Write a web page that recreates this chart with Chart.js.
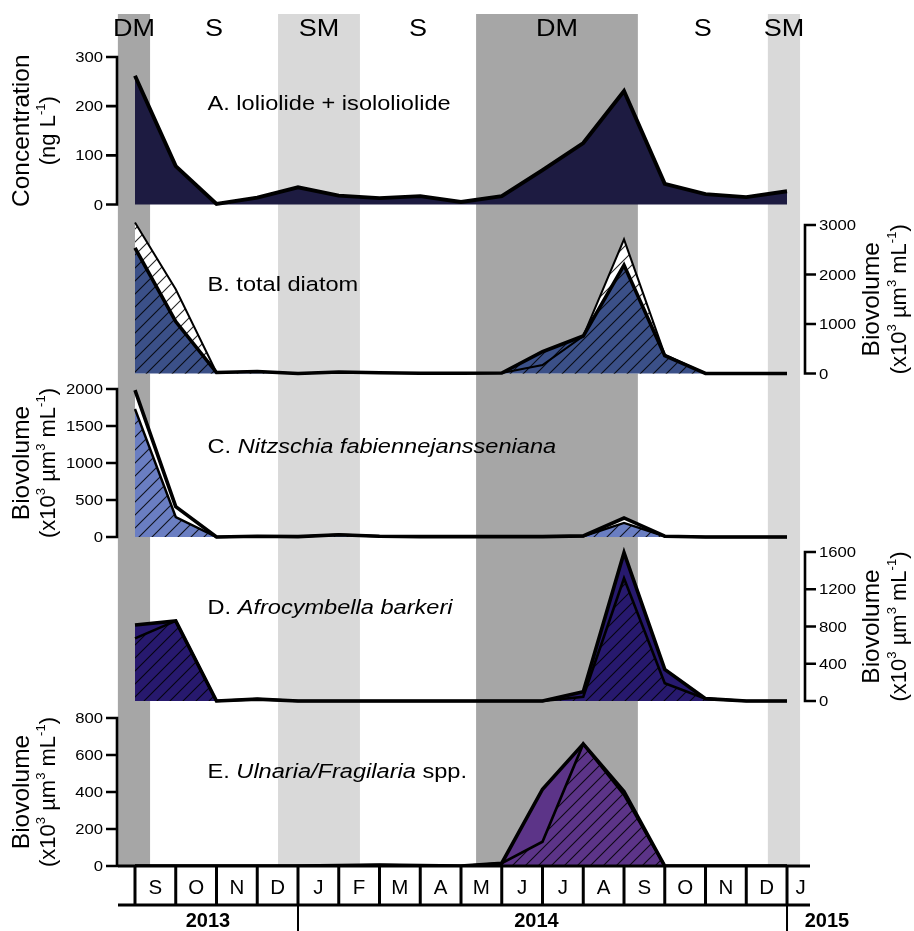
<!DOCTYPE html>
<html>
<head>
<meta charset="utf-8">
<script src="https://cdn.jsdelivr.net/npm/chart.js@4.4.1/dist/chart.umd.min.js"></script>
<style>
  html, body { margin: 0; padding: 0; background: #fff; }
  canvas { display: block; }
</style>
</head>
<body>
<canvas id="c" width="914" height="931"></canvas>
<script>
// sampling points: month index, 0 = start of Sep 2013
const sampleIdx = [0, 1, 2, 3, 4, 5, 6, 7, 8, 9, 10, 11, 12, 13, 14, 15, 16];
const monthLabels = ['S', 'O', 'N', 'D', 'J', 'F', 'M', 'A', 'M', 'J', 'J', 'A', 'S', 'O', 'N', 'D', 'J'];
const yearLabels = ['2013', '2014', '2015'];
const yearStart = [-0.42, 4, 16];

// seasons, in month index units
const seasonLabels = ['DM', 'S', 'SM', 'S', 'DM', 'S', 'SM'];
const seasonFrom = [-0.42, 0.37, 3.51, 5.52, 8.37, 12.34, 15.53];
const seasonTo   = [0.37, 3.51, 5.52, 8.37, 12.34, 15.53, 16.32];

// A. loliolide + isololiolide (ng/L)
const loliolide = [262, 78, 1, 14, 35, 18, 13, 17, 5, 17, 70, 125, 231, 42, 21, 15, 27];
// B. total diatom
const diatom1 = [2540, 1050, 20, 40, 0, 30, 15, 5, 5, 10, 440, 757, 2190, 360, 0, 0, 0];
const diatom2 = [3050, 1700, 20, 40, 0, 30, 15, 5, 5, 10, 170, 757, 2710, 380, 0, 0, 0];
// C. Nitzschia fabiennejansseniana
const nitzschia1 = [1985, 410, 0, 10, 5, 30, 10, 5, 5, 5, 5, 15, 257, 10, 0, 0, 0];
const nitzschia2 = [1730, 270, 0, 10, 5, 30, 10, 5, 5, 5, 5, 10, 190, 10, 0, 0, 0];
// D. Afrocymbella barkeri
const afrocymbella1 = [816, 860, 0, 20, 0, 0, 0, 0, 0, 0, 0, 100, 1593, 340, 25, 0, 0];
const afrocymbella2 = [673, 860, 0, 20, 0, 0, 0, 0, 0, 0, 0, 46, 1318, 190, 25, 0, 0];
// E. Ulnaria/Fragilaria spp.
const ulnaria1 = [0, 0, 0, 0, 0, 3, 5, 3, 0, 15, 415, 660, 402, 0, 0, 0, 0];
const ulnaria2 = [0, 0, 0, 0, 0, 3, 5, 3, 0, 15, 131, 660, 384, 0, 0, 0, 0];

const ticksA = [0, 100, 200, 300];
const ticksB = [0, 1000, 2000, 3000];
const ticksC = [0, 500, 1000, 1500, 2000];
const ticksD = [0, 400, 800, 1200, 1600];
const ticksE = [0, 200, 400, 600, 800];

const FONT = 'Arial, "Liberation Sans", Helvetica, sans-serif';
const TOP = 14, BOTTOM = 866;
const SX = 1.15; // text in the figure is a bit wide
const canvas = document.getElementById('c');
const ctx0 = canvas.getContext('2d');

function hatch(color, lines) {
  const s = 13;
  const t = document.createElement('canvas');
  t.width = t.height = s;
  const g = t.getContext('2d');
  g.fillStyle = color; g.fillRect(0, 0, s, s);
  if (lines !== false) {
    g.strokeStyle = 'rgba(0,0,0,0.85)';
    g.lineWidth = 1.1;
    g.beginPath();
    g.moveTo(0, s); g.lineTo(s, 0);
    g.moveTo(-2, 2); g.lineTo(2, -2);
    g.moveTo(s - 2, s + 2); g.lineTo(s + 2, s - 2);
    g.stroke();
  }
  return ctx0.createPattern(t, 'repeat');
}

// value range for each panel so that 0 and top tick land on given pixel rows
function yRange(p0, p1, v) {
  const k = v / (p0 - p1);
  return { min: -(BOTTOM - p0) * k, max: v + (p1 - TOP) * k, display: false };
}

const pts = vals => sampleIdx.map((x, i) => ({ x: x, y: vals[i] }));
function ds(vals, axis, bg, w) {
  return { data: pts(vals), yAxisID: axis, fill: 'origin', backgroundColor: bg,
           borderColor: '#000', borderWidth: w, pointRadius: 0, tension: 0 };
}

const UNIT_BIO = [['(x10'], ['3', 1], [' µm'], ['3', 1], [' mL'], ['-1', 1], [')']];
const panels = [
  { id: 'yA', ticks: ticksA, side: 'left', title: 'Concentration', unit: [['(ng L'], ['-1', 1], [')']],
    label: [['A. loliolide + isololiolide', 0]], ly: 47 },
  { id: 'yB', ticks: ticksB, side: 'right', title: 'Biovolume', unit: UNIT_BIO,
    label: [['B. total diatom', 0]], ly: 60 },
  { id: 'yC', ticks: ticksC, side: 'left', title: 'Biovolume', unit: UNIT_BIO,
    label: [['C. ', 0], ['Nitzschia fabiennejansseniana', 1]], ly: 58 },
  { id: 'yD', ticks: ticksD, side: 'right', title: 'Biovolume', unit: UNIT_BIO,
    label: [['D. ', 0], ['Afrocymbella barkeri', 1]], ly: 56 },
  { id: 'yE', ticks: ticksE, side: 'left', title: 'Biovolume', unit: UNIT_BIO,
    label: [['E. ', 0], ['Ulnaria/Fragilaria', 1], [' spp.', 0]], ly: 54 }
];

const colA = '#1d1b41', colB = '#3b5088', colC = '#6a7ec2', colD = '#27196e', colE = '#5c3488';

const bgPlugin = {
  id: 'bands',
  beforeDraw(chart) {
    const c = chart.ctx, xs = chart.scales.x;
    c.save();
    seasonLabels.forEach((s, i) => {
      if (s === 'S') return;
      const x0 = xs.getPixelForValue(seasonFrom[i]), x1 = xs.getPixelForValue(seasonTo[i]);
      c.fillStyle = s === 'DM' ? '#a6a6a6' : '#d9d9d9';
      c.fillRect(x0, TOP, x1 - x0, BOTTOM - TOP);
    });
    c.restore();
  }
};

// text stretched horizontally around its anchor
function wideText(c, txt, x, y, align) {
  c.save();
  c.translate(x, y);
  c.scale(SX, 1);
  c.textAlign = align;
  c.fillText(txt, 0, 0);
  c.restore();
}

function drawSupText(c, parts, size, cx, cy) {
  const sm = Math.round(size * 0.6);
  let w = 0;
  parts.forEach(p => { c.font = (p[1] ? sm : size) + 'px ' + FONT; w += c.measureText(p[0]).width; });
  let x = cx - w / 2;
  c.textBaseline = 'middle';
  c.textAlign = 'left';
  parts.forEach(p => {
    c.font = (p[1] ? sm : size) + 'px ' + FONT;
    c.fillText(p[0], x, p[1] ? cy - size * 0.36 : cy);
    x += c.measureText(p[0]).width;
  });
}

const axisPlugin = {
  id: 'axes',
  afterDraw(chart) {
    const c = chart.ctx, xs = chart.scales.x, area = chart.chartArea;
    c.save();
    c.fillStyle = '#000';
    c.strokeStyle = '#000';

    panels.forEach(p => {
      const sc = chart.scales[p.id];
      const yb = sc.getPixelForValue(0), yt = sc.getPixelForValue(p.ticks[p.ticks.length - 1]);
      const left = p.side === 'left';
      const ax = left ? area.left - 1 : area.right - 5;
      const d = left ? -1 : 1;
      c.lineWidth = 2.6;
      c.lineCap = 'butt';
      c.beginPath();
      c.moveTo(ax, yb + 1.3); c.lineTo(ax, yt - 1.3);
      p.ticks.forEach(t => {
        const y = sc.getPixelForValue(t);
        c.moveTo(ax, y); c.lineTo(ax + d * 11, y);
      });
      c.stroke();
      c.font = '14.5px ' + FONT;
      c.textBaseline = 'middle';
      p.ticks.forEach(t => {
        wideText(c, String(t), ax + d * 14, sc.getPixelForValue(t) + 1, left ? 'right' : 'left');
      });

      // axis title, rotated
      const cy = (yb + yt) / 2;
      const x1 = left ? 22 : 872, x2 = left ? 49 : 900;
      c.save();
      c.translate(x1, cy); c.rotate(-Math.PI / 2);
      c.font = '24.5px ' + FONT; c.textAlign = 'center'; c.textBaseline = 'middle';
      c.fillText(p.title, 0, 0);
      c.restore();
      c.save();
      c.translate(x2, cy); c.rotate(-Math.PI / 2);
      drawSupText(c, p.unit, 22, 0, 0);
      c.restore();

      // panel label
      let x = xs.getPixelForValue(1.78);
      const ly = yt + p.ly;
      c.textBaseline = 'middle';
      p.label.forEach(s => {
        c.font = (s[1] ? 'italic ' : '') + '20.5px ' + FONT;
        wideText(c, s[0], x, ly, 'left');
        x += c.measureText(s[0]).width * SX;
      });
    });

    // season labels
    c.font = '23.5px ' + FONT; c.textBaseline = 'middle';
    seasonLabels.forEach((s, i) => {
      wideText(c, s, xs.getPixelForValue((seasonFrom[i] + seasonTo[i]) / 2), 30, 'center');
    });

    // bottom axis with month boxes
    const yb = area.bottom, boxB = yb + 39;
    c.lineWidth = 3;
    c.beginPath();
    c.moveTo(area.left, yb); c.lineTo(area.right, yb);
    c.moveTo(area.left, boxB); c.lineTo(area.right, boxB);
    sampleIdx.forEach(i => {
      const x = xs.getPixelForValue(i);
      c.moveTo(x, yb); c.lineTo(x, boxB);
    });
    c.stroke();
    c.lineWidth = 2;
    c.beginPath();
    yearStart.slice(1).forEach(v => {
      const x = xs.getPixelForValue(v);
      c.moveTo(x, boxB); c.lineTo(x, 931);
    });
    c.stroke();

    c.font = '20.5px ' + FONT; c.textAlign = 'center'; c.textBaseline = 'middle';
    monthLabels.forEach((m, i) => {
      const v = i < monthLabels.length - 1 ? i + 0.5 : (i + xs.max) / 2 + 0.05;
      c.fillText(m, xs.getPixelForValue(v), yb + 22);
    });
    c.font = 'bold 20px ' + FONT;
    const yearMid = [(yearStart[0] + yearStart[1]) / 2, 9.85, 16.98];
    yearLabels.forEach((yl, i) => {
      c.fillText(yl, xs.getPixelForValue(yearMid[i]), 921);
    });
    c.restore();
  }
};

// earlier datasets are painted on top
new Chart(canvas, {
  type: 'line',
  data: {
    datasets: [
      ds(loliolide, 'yA', colA, 3.9),
      ds(diatom1, 'yB', hatch(colB), 3.6),
      ds(diatom2, 'yB', hatch('#ffffff'), 2),
      ds(nitzschia2, 'yC', hatch(colC), 2.4),
      ds(nitzschia1, 'yC', hatch('#ffffff', false), 3.6),
      ds(afrocymbella2, 'yD', hatch(colD), 2.6),
      ds(afrocymbella1, 'yD', colD, 3.6),
      ds(ulnaria2, 'yE', hatch(colE), 2.6),
      ds(ulnaria1, 'yE', colE, 3.6)
    ]
  },
  options: {
    responsive: false,
    animation: false,
    devicePixelRatio: 1,
    layout: { padding: { left: 118, right: 104, top: TOP, bottom: 931 - BOTTOM } },
    plugins: { legend: { display: false }, tooltip: { enabled: false },
               filler: { drawTime: 'beforeDatasetsDraw' } },
    scales: {
      x: { type: 'linear', min: -0.417, max: 16.564, display: false },
      yA: yRange(204.5, 57, 300),
      yB: yRange(373.5, 225, 3000),
      yC: yRange(537, 389, 2000),
      yD: yRange(701, 552, 1600),
      yE: yRange(866, 718, 800)
    }
  },
  plugins: [bgPlugin, axisPlugin]
});
</script>
</body>
</html>
